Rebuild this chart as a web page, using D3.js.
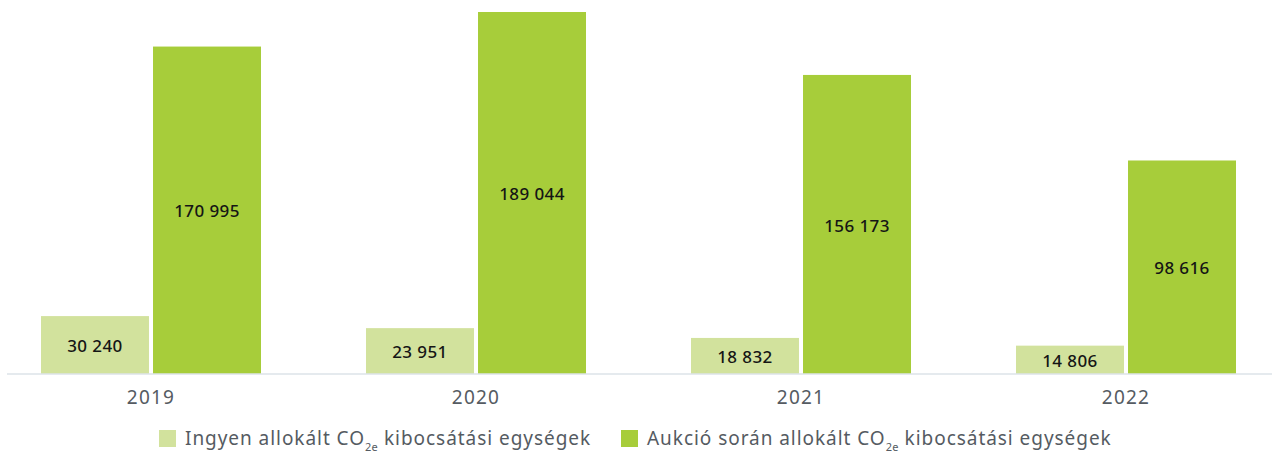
<!DOCTYPE html>
<html>
<head>
<meta charset="utf-8">
<script src="https://cdn.jsdelivr.net/npm/d3@7"></script>
<style>
  body { margin: 0; background: #fff; }
  svg { display: block; font-family: "Noto Sans", "Open Sans", sans-serif; }
</style>
</head>
<body>
<div id="chart"></div>
<script>
const years = ["2019", "2020", "2021", "2022"];
const freeUnits = [30240, 23951, 18832, 14806];
// bar heights as drawn in the picture (the 2022 bar is drawn taller than its label)
const auctionUnits = [170995, 189044, 156173, 111500];
const auctionLabels = [170995, 189044, 156173, 98616];
const seriesNames = ["Ingyen allokált CO", "Aukció során allokált CO"];
const seriesColors = ["#d2e29d", "#a7cd3a"];

const width = 1272, height = 452;
const baseline = 374;

const svg = d3.select("#chart")
    .append("svg")
    .attr("width", width)
    .attr("height", height);

const x = d3.scaleBand()
    .domain(years)
    .range([-11.5, 1288.5]);

const xInner = d3.scaleBand()
    .domain([0, 1])
    .range([52.5, 272.5])
    .paddingInner(0.036);

const y = d3.scaleLinear()
    .domain([0, 189044])
    .range([baseline, 12]);

const fmt = v => d3.format(",")(v).replace(/,/g, " ");

const data = years.map((yr, i) => ({
    year: yr,
    values: [
        {k: 0, v: freeUnits[i], label: freeUnits[i]},
        {k: 1, v: auctionUnits[i], label: auctionLabels[i]}
    ]
}));

const groups = svg.selectAll(".year")
    .data(data)
    .enter().append("g")
    .attr("class", "year")
    .attr("transform", d => `translate(${x(d.year)},0)`);

const bars = groups.selectAll(".bar")
    .data(d => d.values)
    .enter().append("g")
    .attr("class", "bar");

bars.append("rect")
    .attr("x", d => xInner(d.k))
    .attr("y", d => y(d.v))
    .attr("width", xInner.bandwidth())
    .attr("height", d => baseline - y(d.v))
    .attr("fill", d => seriesColors[d.k]);

bars.append("text")
    .attr("x", d => xInner(d.k) + xInner.bandwidth() / 2)
    .attr("y", d => (y(d.v) + baseline) / 2)
    .attr("dy", "0.42em")
    .attr("text-anchor", "middle")
    .attr("font-size", 17)
    .attr("font-weight", 500)
    .attr("letter-spacing", 0.4)
    .attr("fill", "#151515")
    .text(d => fmt(d.label));

// axis line
svg.append("line")
    .attr("x1", 7)
    .attr("x2", width)
    .attr("y1", baseline)
    .attr("y2", baseline)
    .attr("stroke", "#dde3e8")
    .attr("stroke-width", 1.5);

svg.selectAll(".yearLabel")
    .data(years)
    .enter().append("text")
    .attr("class", "yearLabel")
    .attr("x", d => x(d) + x.bandwidth() / 2)
    .attr("y", 404)
    .attr("text-anchor", "middle")
    .attr("font-size", 19)
    .attr("letter-spacing", 1.2)
    .attr("fill", "#555b62")
    .text(d => d);

// legend
const legendX = [159, 621];
const legend = svg.selectAll(".legend")
    .data(seriesNames)
    .enter().append("g")
    .attr("class", "legend")
    .attr("transform", (d, i) => `translate(${legendX[i]},430)`);

legend.append("rect")
    .attr("width", 17)
    .attr("height", 17)
    .attr("fill", (d, i) => seriesColors[i]);

const lt = legend.append("text")
    .attr("x", 26)
    .attr("y", 14.5)
    .attr("font-size", 19)
    .attr("letter-spacing", 0.95)
    .attr("fill", "#555b62");

lt.append("tspan").text(d => d);
lt.append("tspan")
    .attr("font-size", 11)
    .attr("letter-spacing", 0.3)
    .attr("dy", 6)
    .text("2e");
lt.append("tspan")
    .attr("dy", -6)
    .text(" kibocsátási egységek");
</script>
</body>
</html>
